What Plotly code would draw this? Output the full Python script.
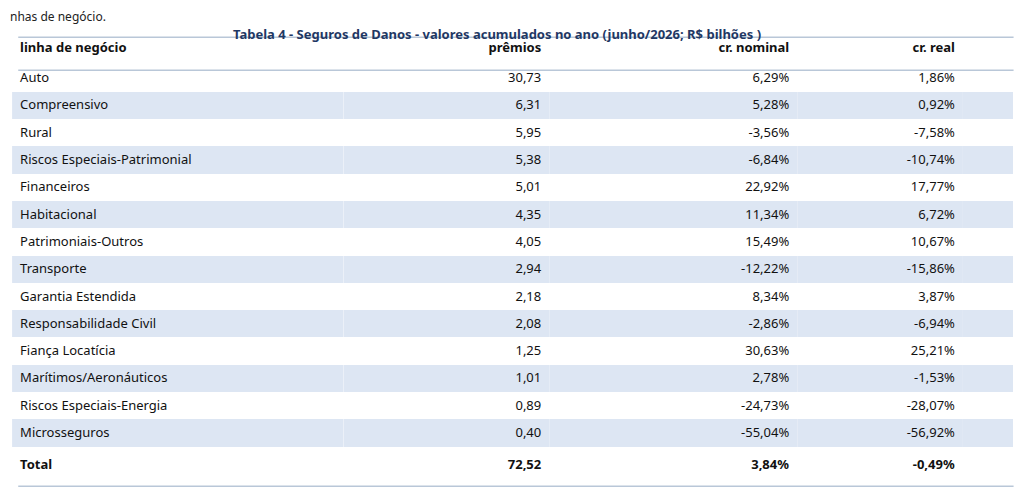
import plotly.graph_objects as go

linhas = ["Auto", "Compreensivo", "Rural", "Riscos Especiais-Patrimonial", "Financeiros",
          "Habitacional", "Patrimoniais-Outros", "Transporte", "Garantia Estendida",
          "Responsabilidade Civil", "Fiança Locatícia", "Marítimos/Aeronáuticos",
          "Riscos Especiais-Energia", "Microsseguros"]
premios = ["30,73", "6,31", "5,95", "5,38", "5,01", "4,35", "4,05", "2,94", "2,18",
           "2,08", "1,25", "1,01", "0,89", "0,40"]
cr_nominal = ["6,29%", "5,28%", "-3,56%", "-6,84%", "22,92%", "11,34%", "15,49%", "-12,22%",
              "8,34%", "-2,86%", "30,63%", "2,78%", "-24,73%", "-55,04%"]
cr_real = ["1,86%", "0,92%", "-7,58%", "-10,74%", "17,77%", "6,72%", "10,67%", "-15,86%",
           "3,87%", "-6,94%", "25,21%", "-1,53%", "-28,07%", "-56,92%"]
total = ["Total", "72,52", "3,84%", "-0,49%"]

headers = ["linha de negócio", "prêmios", "cr. nominal", "cr. real", ""]

col_nome = linhas + ["<b>%s</b>" % total[0]]
col_prem = premios + ["<b>%s</b>" % total[1]]
col_nom = cr_nominal + ["<b>%s</b>" % total[2]]
col_real = cr_real + ["<b>%s</b>" % total[3]]
col_vazio = [""] * len(col_nome)

stripe = "#dde6f3"
fills = ["white" if i % 2 == 0 else stripe for i in range(len(col_nome))]

fig = go.Figure(go.Table(
    domain=dict(x=[0.004, 0.982], y=[0.0, 0.954]),
    columnwidth=[330, 205, 247, 165, 50],
    header=dict(
        values=["<b>%s</b>" % h for h in headers],
        align=["left", "right", "right", "right", "right"],
        fill_color="white",
        line=dict(width=0, color="white"),
        font=dict(family="Noto Sans", size=13, color="#111111"),
        height=33,
    ),
    cells=dict(
        values=[col_nome, col_prem, col_nom, col_real, col_vazio],
        align=["left", "right", "right", "right", "right"],
        fill_color=[fills] * 5,
        line=dict(width=0, color="white"),
        font=dict(family="Noto Sans", size=13, color="#111111"),
        height=27.3,
    ),
))

linecol = "#b9c7d8"
for yy in [0.94, 0.872, 0.018]:
    fig.add_shape(type="line", xref="paper", yref="paper", x0=0.01, x1=0.982,
                  y0=yy, y1=yy, line=dict(color=linecol, width=1.5))

fig.add_annotation(text="<b>Tabela 4 - Seguros de Danos - valores acumulados no ano (junho/2026; R$ bilhões )</b>",
                   xref="paper", yref="paper", x=0.478, y=0.969, showarrow=False,
                   font=dict(family="Noto Sans", size=13, color="#1f3864"))
fig.add_annotation(text="nhas de negócio.", xref="paper", yref="paper", x=0.0, y=1.0,
                   xanchor="left", yanchor="top", yshift=2, showarrow=False,
                   font=dict(family="Noto Sans", size=12, color="#222222"))

fig.update_layout(width=1024, height=487, margin=dict(l=0, r=0, t=0, b=0),
                  paper_bgcolor="white")

fig.write_html("out.html")
